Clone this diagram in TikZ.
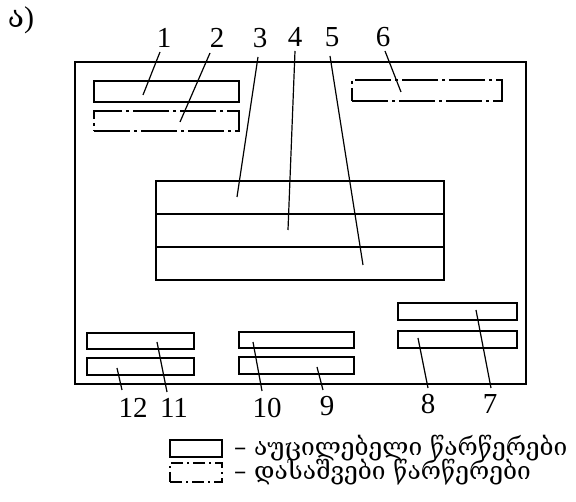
\documentclass[tikz,border=0pt]{standalone}
\usepackage{fontspec}
\setmainfont{Liberation Serif}
\newfontfamily\geo{DejaVu Serif}
\begin{document}
\begin{tikzpicture}[x=1pt,y=-1pt,
  ln/.style={line width=1.6pt},
  box/.style={draw,line width=1.6pt,inner sep=0pt,rectangle},
  dbox/.style={box,dash pattern=on 36pt off 4pt on 3pt off 4pt},
  lead/.style={line width=1.2pt},
  num/.style={font=\fontsize{29}{29}\selectfont,inner sep=0pt},
  legtxt/.style={font=\geo\fontsize{24.5}{24.5}\selectfont,anchor=west,inner sep=0pt}]
\useasboundingbox (0,0) rectangle (576,502);
% title
\node[inner sep=0pt,font=\fontsize{30}{30}\selectfont] (title) at (21,20) {{\geo ა})};
% frame
\node[box,minimum width=451pt,minimum height=322pt] (frame) at (300.5,223) {};
% boxes
\node[box,minimum width=145pt,minimum height=21pt] (b1) at (166.5,91.5) {};
\node[dbox,minimum width=145pt,minimum height=20pt] (b2) at (166.5,121) {};
\node[dbox,minimum width=150pt,minimum height=21pt] (b6) at (427,90.5) {};
\node[box,minimum width=288pt,minimum height=99pt] (bc) at (300,230.5) {};
\draw[ln] (bc.west |- 0,214) coordinate (r1w) -- (bc.east |- 0,214) coordinate (r1e);
\draw[ln] (bc.west |- 0,247) coordinate (r2w) -- (bc.east |- 0,247) coordinate (r2e);
\node[box,minimum width=107pt,minimum height=16pt] (b11) at (140.5,341) {};
\node[box,minimum width=107pt,minimum height=17pt] (b12) at (140.5,366.5) {};
\node[box,minimum width=115pt,minimum height=16pt] (b10) at (296.5,340) {};
\node[box,minimum width=115pt,minimum height=17pt] (b9) at (296.5,365.5) {};
\node[box,minimum width=119pt,minimum height=17pt] (b7) at (457.5,311.5) {};
\node[box,minimum width=119pt,minimum height=17pt] (b8) at (457.5,339.5) {};
% numbers
\node[num] (n1) at (164,38) {1};
\node[num] (n2) at (217,38) {2};
\node[num] (n3) at (260,38) {3};
\node[num] (n4) at (295,37) {4};
\node[num] (n5) at (332,37) {5};
\node[num] (n6) at (383,37) {6};
\node[num] (n12) at (133,408) {12};
\node[num] (n11) at (174,408) {11};
\node[num] (n10) at (267,408) {10};
\node[num] (n9) at (327,406) {9};
\node[num] (n8) at (428,404) {8};
\node[num] (n7) at (490,404) {7};
% leader ends
\coordinate (p1) at (143,95);
\coordinate (p2) at (180,122);
\coordinate (p3) at (237,197);
\coordinate (p4) at (288,230);
\coordinate (p5) at (363,265);
\coordinate (p6) at (401,92);
\coordinate (p12) at (117,368);
\coordinate (p11) at (157,342);
\coordinate (p10) at (253,342);
\coordinate (p9) at (317,367);
\coordinate (p8) at (418,338);
\coordinate (p7) at (476,310);
\coordinate (s1) at (160,52);
\coordinate (s2) at (210,53);
\coordinate (s3) at (258,57);
\coordinate (s4) at (295,51);
\coordinate (s5) at (330,56);
\coordinate (s6) at (385,51);
\coordinate (s12) at (122,390);
\coordinate (s11) at (167,392);
\coordinate (s10) at (262,391);
\coordinate (s9) at (323,390);
\coordinate (s8) at (428,388);
\coordinate (s7) at (491,388);
\foreach \i in {1,2,3,4,5,6,7,8,9,10,11,12}{\draw[lead] (s\i) -- (p\i);}
% legend
\node[box,minimum width=52pt,minimum height=17pt] (lg1) at (196,448.5) {};
\node[box,minimum width=52pt,minimum height=19pt,dash pattern=on 12pt off 4pt on 2pt off 4pt] (lg2) at (196,472.5) {};
\node[legtxt] (t1) at (234,448) {– აუცილებელი წარწერები};
\node[legtxt] (t2) at (234,472) {– დასაშვები წარწერები};
\end{tikzpicture}
\end{document}
